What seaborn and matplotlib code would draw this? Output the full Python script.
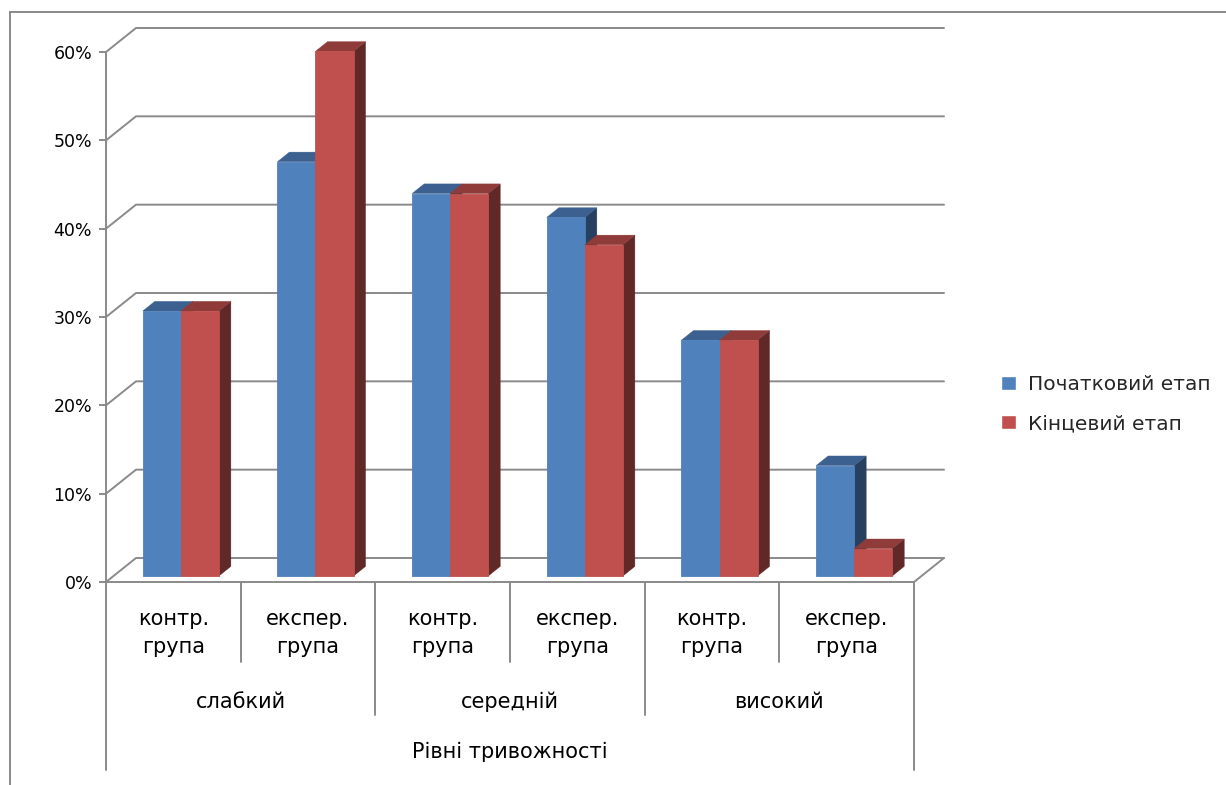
import matplotlib
matplotlib.use("Agg")
import numpy as np
import pandas as pd
import seaborn as sns
import matplotlib.pyplot as plt
from matplotlib.transforms import ScaledTranslation, IdentityTransform, blended_transform_factory
from matplotlib.patches import Polygon
from matplotlib.lines import Line2D

# ---------------- data ----------------
levels = ["слабкий", "середній", "високий"]
groups = ["контр.\nгрупа", "експер.\nгрупа"]
series = ["Початковий етап", "Кінцевий етап"]
initial = [30.0, 46.9, 43.3, 40.6, 26.7, 12.5]
final = [30.0, 59.4, 43.3, 37.5, 26.7, 3.1]
axis_title = "Рівні тривожності"
yticks = [0, 10, 20, 30, 40, 50, 60]
ytick_labels = [f"{v}%" for v in yticks]

keys = [f"{l}|{g}" for l in levels for g in groups]
df = pd.DataFrame({
    "key": keys * 2,
    "value": initial + final,
    "stage": [series[0]] * len(keys) + [series[1]] * len(keys),
})

# ---------------- style ----------------
sns.set_theme(style="white")
plt.rcParams["font.family"] = ["DejaVu Sans"]

W_PX, H_PX = 1226, 785
fig = plt.figure(figsize=(W_PX / 100, H_PX / 100), dpi=100)
fig.patch.set_facecolor("white")

# front plane of the 3D box
L, R, B, T = 106, 914, 582, 52
ax = fig.add_axes([L / W_PX, 1 - B / H_PX, (R - L) / W_PX, (B - T) / H_PX])
ax.set_facecolor("none")

front_cols = {series[0]: "#4F81BD", series[1]: "#C0504D"}
top_cols = {series[0]: "#3C6190", series[1]: "#8E3B39"}
side_cols = {series[0]: "#27405F", series[1]: "#602826"}

sns.barplot(data=df, x="key", y="value", hue="stage", order=keys,
            hue_order=series, palette=[front_cols[s] for s in series],
            width=0.565, gap=0, saturation=1, errorbar=None, ax=ax)

ax.set_xlim(-0.5, 5.5)
ax.set_ylim(0, 60)

GRAY = "#8A8A8A"
LW = 1.4

for s in ["top", "right"]:
    ax.spines[s].set_visible(False)
for s in ["left", "bottom"]:
    ax.spines[s].set_color(GRAY)
    ax.spines[s].set_linewidth(LW)
    ax.spines[s].set_zorder(6)

ax.set_yticks(yticks, labels=ytick_labels)
ax.tick_params(axis="y", left=True, length=5, width=LW, color=GRAY,
               pad=5, labelsize=12.5, labelcolor="black")
ax.set_xticks([])
ax.set_xlabel("")
ax.set_ylabel("")

# legend -> figure
handles, labels = ax.get_legend_handles_labels()
if ax.get_legend() is not None:
    ax.get_legend().remove()
fig.legend(handles, labels, loc="center left",
           bbox_to_anchor=(1001 / W_PX, 1 - 404 / H_PX), frameon=False,
           fontsize=14.5, handlelength=0.74, handleheight=0.74,
           handletextpad=0.62, labelspacing=1.0, borderaxespad=0, borderpad=0)

# ---------------- 3D decoration ----------------
ID = IdentityTransform()
DEPTH = np.array([30.0, 24.0])           # floor depth in px
BAR_OFF = DEPTH * 0.25                   # bar front plane
BAR_D = np.array([12.0, 9.6])            # bar depth

def disp(x, y):
    return np.array(ax.transData.transform((x, y)))

original_patches = list(ax.patches)

# back-wall gridlines with diagonals
for v in yticks:
    f = disp(-0.5, v)
    b = f + DEPTH
    r = disp(5.5, v) + DEPTH
    ax.add_artist(Line2D([f[0], b[0], r[0]], [f[1], b[1], r[1]], transform=ID,
                         color=GRAY, lw=LW, zorder=1, clip_on=False))
# floor right edge
fr = disp(5.5, 0)
br = fr + DEPTH
ax.add_artist(Line2D([fr[0], br[0]], [fr[1], br[1]], transform=ID,
                     color=GRAY, lw=LW, zorder=1, clip_on=False))

# bars: shift front faces and add top / side faces
off = ScaledTranslation(BAR_OFF[0] / 100, BAR_OFF[1] / 100, fig.dpi_scale_trans)
bar_patches = set()
for si, cont in enumerate(ax.containers):
    s = series[si] if si < len(series) else series[-1]
    z = 3 + 2 * si
    for p in cont.patches:
        h = p.get_height()
        if not np.isfinite(h) or p.get_width() == 0:
            continue
        bar_patches.add(p)
        x0, w = p.get_x(), p.get_width()
        p.set_transform(ax.transData + off)
        p.set_clip_on(False)
        p.set_zorder(z + 1)
        p.set_edgecolor(front_cols[s])
        p.set_linewidth(0.6)
        X0, Y0 = disp(x0, 0) + BAR_OFF
        X1, Y1 = disp(x0 + w, h) + BAR_OFF
        dx, dy = BAR_D
        top = [(X0, Y1), (X1, Y1), (X1 + dx, Y1 + dy), (X0 + dx, Y1 + dy)]
        side = [(X1, Y0), (X1 + dx, Y0 + dy), (X1 + dx, Y1 + dy), (X1, Y1)]
        for pts, col in ((side, side_cols[s]), (top, top_cols[s])):
            ax.add_artist(Polygon(pts, closed=True, transform=ID, facecolor=col,
                                  edgecolor=col, lw=0.3, zorder=z, clip_on=False))
# hide any stray non-bar patches created by the plotting call
for p in original_patches:
    if p not in bar_patches:
        p.set_visible(False)

# ---------------- category table ----------------
tb = blended_transform_factory(ax.transData, ax.transAxes)
axh = B - T
line_specs = [(-0.5, 188), (5.5, 188), (1.5, 133), (3.5, 133),
              (0.5, 80), (2.5, 80), (4.5, 80)]
for x, depth in line_specs:
    ax.add_artist(Line2D([x, x], [0, -depth / axh], transform=tb, color=GRAY,
                         lw=LW, zorder=6, clip_on=False))

for i, k in enumerate(keys):
    ax.text(i, -51 / axh, groups[i % 2], transform=tb, ha="center", va="center",
            fontsize=15, linespacing=1.45, color="black")
for j, lev in enumerate(levels):
    ax.text(2 * j + 0.5, -120 / axh, lev, transform=tb, ha="center", va="center",
            fontsize=15, color="black")
ax.text(2.5, -170 / axh, axis_title, transform=tb, ha="center", va="center",
        fontsize=15, color="black")

# outer chart frame
fig.add_artist(Line2D([10 / W_PX, 10 / W_PX], [0, 1 - 12 / H_PX],
                      transform=fig.transFigure, color=GRAY, lw=LW))
fig.add_artist(Line2D([10 / W_PX, 1], [1 - 12 / H_PX, 1 - 12 / H_PX],
                      transform=fig.transFigure, color=GRAY, lw=LW))

fig.savefig("out.png", dpi=100)
